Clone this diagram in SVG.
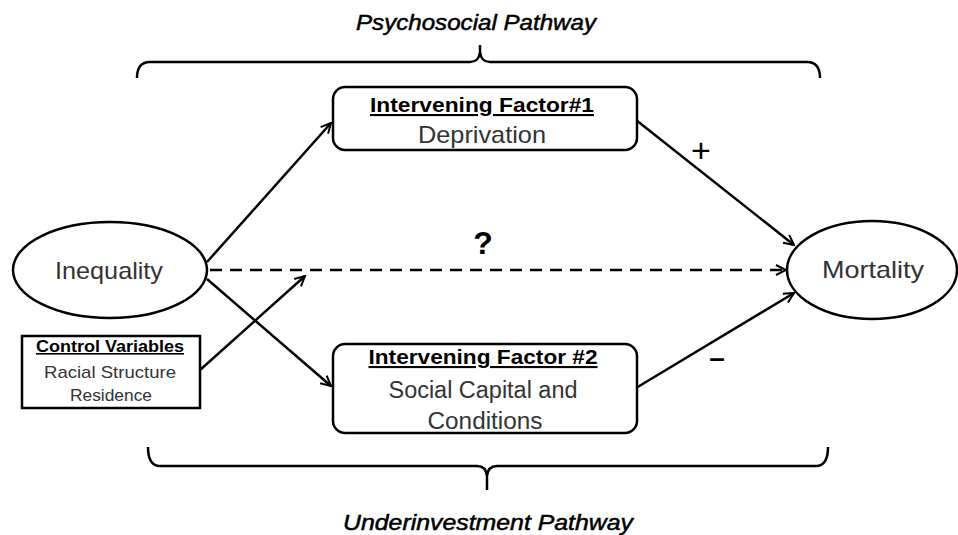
<svg xmlns="http://www.w3.org/2000/svg" width="958" height="535" viewBox="0 0 958 535">
<defs>
<style>
.shape{fill:#fff;stroke:#000;stroke-width:2.5}
.line{fill:none;stroke:#000;stroke-width:2.5}
.t{font-family:"Liberation Sans",Arial,sans-serif;fill:#333;text-anchor:middle}
.b{font-weight:bold;fill:#000;text-decoration:underline}
.it{font-style:italic;font-family:"Liberation Sans",Arial,sans-serif;fill:#000;stroke:#000;stroke-width:0.5;text-anchor:middle}
</style>
<marker id="arr" viewBox="0 0 12 12" refX="11" refY="6" markerWidth="12" markerHeight="12" markerUnits="userSpaceOnUse" orient="auto">
<path d="M1,1 L11,6 L1,11" fill="none" stroke="#000" stroke-width="2"/>
</marker>
</defs>
<rect width="958" height="535" fill="#fff"/>
<g id="braces">
<path class="line" d="M137,78 Q137,62 150,62 L470,62 Q479,62 480,52 L480,45 M480,52 Q481,62 490,62 L807,62 Q820,62 820,78"/>
<path class="line" d="M148,447 Q148,466 160,466 L477,466 Q486,466 487,476 L487,490 M487,476 Q488,466 497,466 L816,466 Q828,466 828,447"/>
<text class="it" x="476" y="30" font-size="22" textLength="240" lengthAdjust="spacingAndGlyphs">Psychosocial Pathway</text>
<text class="it" x="488" y="530" font-size="22" textLength="290" lengthAdjust="spacingAndGlyphs">Underinvestment Pathway</text>
</g>
<g id="connectors">
<line class="line" x1="207" y1="262" x2="331" y2="123" marker-end="url(#arr)"/>
<line class="line" x1="207" y1="279" x2="331" y2="386" marker-end="url(#arr)"/>
<line class="line" x1="210" y1="270" x2="786" y2="270" stroke-dasharray="12,8" marker-end="url(#arr)"/>
<line class="line" x1="200" y1="370" x2="305" y2="276" marker-end="url(#arr)"/>
<line class="line" x1="636" y1="120" x2="794" y2="245" marker-end="url(#arr)"/>
<line class="line" x1="636" y1="388" x2="794" y2="293" marker-end="url(#arr)"/>
<text x="701" y="162" font-family="Liberation Sans,Arial,sans-serif" font-size="34" text-anchor="middle" fill="#000">+</text>
<text x="717" y="367" font-family="Liberation Sans,Arial,sans-serif" font-size="28" font-weight="bold" text-anchor="middle" fill="#000">–</text>
<text x="483" y="254" font-family="Liberation Sans,Arial,sans-serif" font-size="32" font-weight="bold" text-anchor="middle" fill="#000">?</text>
</g>
<g id="inequality">
<ellipse class="shape" cx="110" cy="270" rx="97" ry="48"/>
<text class="t" x="109" y="279" font-size="24" textLength="108" lengthAdjust="spacingAndGlyphs">Inequality</text>
</g>
<g id="mortality">
<ellipse class="shape" cx="872" cy="270" rx="85" ry="49"/>
<text class="t" x="873" y="278" font-size="24" textLength="102" lengthAdjust="spacingAndGlyphs">Mortality</text>
</g>
<g id="factor1">
<rect class="shape" x="333" y="87" width="304" height="63" rx="12"/>
<text class="t b" x="482" y="112" font-size="21" textLength="224" lengthAdjust="spacingAndGlyphs">Intervening Factor#1</text>
<text class="t" x="482" y="143" font-size="24" textLength="128" lengthAdjust="spacingAndGlyphs">Deprivation</text>
</g>
<g id="factor2">
<rect class="shape" x="333" y="344" width="304" height="89" rx="12"/>
<text class="t b" x="483" y="364" font-size="21" textLength="229" lengthAdjust="spacingAndGlyphs">Intervening Factor #2</text>
<text class="t" x="483" y="398" font-size="23" textLength="189" lengthAdjust="spacingAndGlyphs">Social Capital and</text>
<text class="t" x="485" y="429" font-size="23" textLength="115" lengthAdjust="spacingAndGlyphs">Conditions</text>
</g>
<g id="controls">
<rect class="shape" x="22" y="336" width="178" height="72"/>
<text class="t b" x="110" y="352" font-size="16" textLength="148" lengthAdjust="spacingAndGlyphs">Control Variables</text>
<text class="t" x="110" y="378" font-size="17" textLength="132" lengthAdjust="spacingAndGlyphs">Racial Structure</text>
<text class="t" x="111" y="401" font-size="17" textLength="82" lengthAdjust="spacingAndGlyphs">Residence</text>
</g>
</svg>
